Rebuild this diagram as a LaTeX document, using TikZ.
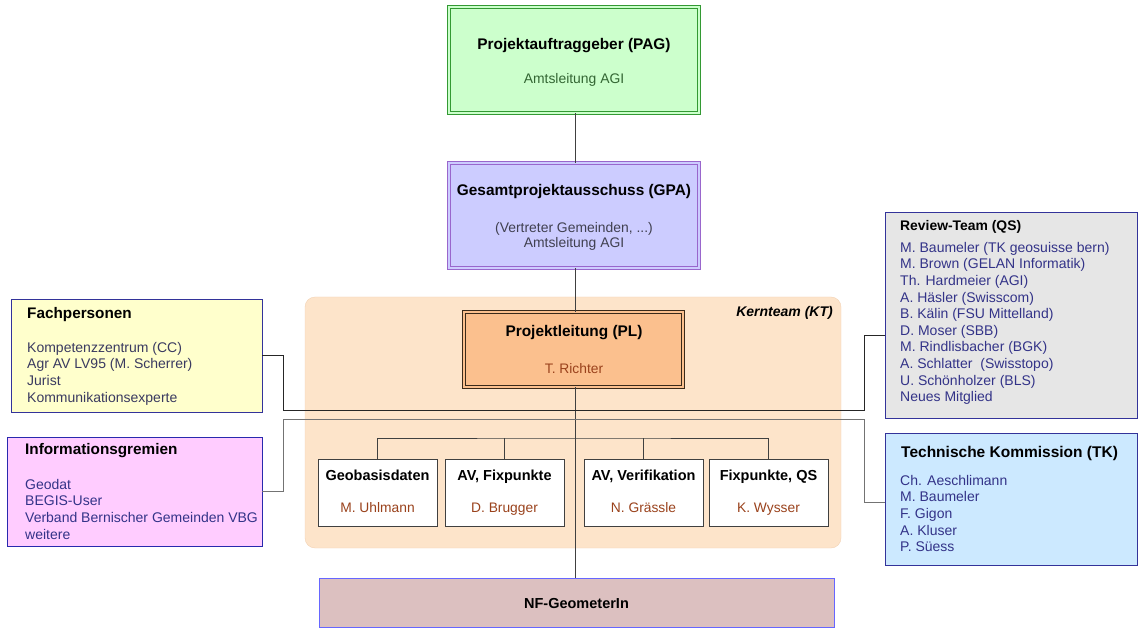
\documentclass[tikz,border=0pt]{standalone}
\usepackage{fontspec}
\setmainfont{Liberation Sans}

\definecolor{pagfill}{HTML}{CCFFCC}
\definecolor{pagline}{HTML}{339933}
\definecolor{pagtext}{HTML}{336633}
\definecolor{gpafill}{HTML}{CCCCFF}
\definecolor{gpaline}{HTML}{9966CC}
\definecolor{gpatext}{HTML}{404050}
\definecolor{ktfill}{HTML}{FDE4CA}
\definecolor{ktline}{HTML}{F2D2B4}
\definecolor{plfill}{HTML}{FBC08E}
\definecolor{plline}{HTML}{3A2A1A}
\definecolor{nametext}{HTML}{9A421C}
\definecolor{fachfill}{HTML}{FFFFCC}
\definecolor{fachtext}{HTML}{3A3A60}
\definecolor{infofill}{HTML}{FFCCFF}
\definecolor{revfill}{HTML}{E6E6E6}
\definecolor{tkfill}{HTML}{CCE9FF}
\definecolor{nffill}{HTML}{DCC0C0}
\definecolor{nfline}{HTML}{6666FF}
\definecolor{boxblue}{HTML}{33339A}
\definecolor{listtext}{HTML}{333388}
\definecolor{linegray}{HTML}{404040}

\tikzset{
  box/.style={draw, rectangle, inner sep=0pt, line width=0.8pt},
  dbox/.style={box, line width=0.7pt, double distance=2pt},
  title/.style={inner sep=0pt, font=\bfseries\fontsize{14.5}{17}\selectfont},
  bigtitle/.style={inner sep=0pt, font=\bfseries\fontsize{15.4}{18}\selectfont},
  body/.style={inner sep=0pt, font=\fontsize{14}{16.6}\selectfont, align=left, text=listtext},
  persname/.style={inner sep=0pt, font=\fontsize{13.8}{16}\selectfont, text=nametext},
  conn/.style={draw=linegray, line width=1pt},
}

\begin{document}
\begin{tikzpicture}[x=1pt,y=-1pt]
\useasboundingbox (0,0) rectangle (1138,628);
%
\node[rectangle, rounded corners=10pt, fill=ktfill, draw=ktline, minimum width=536pt, minimum height=251pt] (kt) at (573,422.5) {};
\node[anchor=base east, inner sep=0pt, font=\bfseries\itshape\fontsize{14}{16}\selectfont] (ktL) at (833,317) {Kernteam (KT)};
%
\node[dbox, draw=pagline, double=pagfill, fill=pagfill, minimum width=250pt, minimum height=106pt] (pag) at (574,60) {};
\node[bigtitle, anchor=base] (pagT) at (574,50) {Projektauftraggeber (PAG)};
\node[anchor=base, inner sep=0pt, font=\fontsize{13.9}{16}\selectfont, text=pagtext] (pagN) at (574,84) {Amtsleitung AGI};
%
\node[dbox, draw=gpaline, double=gpafill, fill=gpafill, minimum width=250pt, minimum height=105pt] (gpa) at (574,215.5) {};
\node[bigtitle, anchor=base] (gpaT) at (574,196) {Gesamtprojektausschuss (GPA)};
\node[anchor=north, inner sep=0pt, align=center, font=\fontsize{13.9}{15.5}\selectfont, text=gpatext] (gpaN) at (574,222) {(Vertreter Gemeinden, ...)\\Amtsleitung AGI};
%
\node[dbox, draw=plline, double=plfill, fill=plfill, minimum width=219pt, minimum height=75pt] (pl) at (573.5,349.5) {};
\node[bigtitle, anchor=base] (plT) at (574,337) {Projektleitung (PL)};
\node[persname, anchor=base] (plN) at (574,373) {T. Richter};
%
\node[box, draw=black!75, fill=white, minimum width=119pt, minimum height=67pt] (geo) at (377.5,492.5) {};
\node[box, draw=black!75, fill=white, minimum width=119pt, minimum height=67pt] (avfix) at (504.5,492.5) {};
\node[box, draw=black!75, fill=white, minimum width=119pt, minimum height=67pt] (avver) at (643.5,492.5) {};
\node[box, draw=black!75, fill=white, minimum width=119pt, minimum height=67pt] (fixqs) at (768.5,492.5) {};
\node[title, anchor=base] (geoT) at (377.5,480) {Geobasisdaten};
\node[title, anchor=base] (avfixT) at (504.5,480) {AV, Fixpunkte};
\node[title, anchor=base] (avverT) at (643.5,480) {AV, Verifikation};
\node[title, anchor=base] (fixqsT) at (768.5,480) {Fixpunkte, QS};
\node[persname, anchor=base] (geoN) at (377.5,512) {M. Uhlmann};
\node[persname, anchor=base] (avfixN) at (504.5,512) {D. Brugger};
\node[persname, anchor=base] (avverN) at (643.5,512) {N. Grässle};
\node[persname, anchor=base] (fixqsN) at (768.5,512) {K. Wysser};
%
\node[box, draw=nfline, fill=nffill, minimum width=515pt, minimum height=49pt] (nf) at (576.5,602.5) {};
\node[title, anchor=base] (nfT) at (576.5,608) {NF-GeometerIn};
%
\node[box, draw=boxblue, fill=fachfill, minimum width=251pt, minimum height=113pt] (fach) at (136.5,355.5) {};
\node[title, anchor=base west, font=\bfseries\fontsize{15.3}{18}\selectfont] (fachT) at (27,319) {Fachpersonen};
\node[body, anchor=north west, text=fachtext] (fachL) at (27,342) {Kompetenzzentrum (CC)\\Agr AV LV95 (M. Scherrer)\\Jurist\\Kommunikationsexperte};
%
\node[box, draw=boxblue!80!blue, fill=infofill, minimum width=255pt, minimum height=109pt] (info) at (134.5,491.5) {};
\node[title, anchor=base west, font=\bfseries\fontsize{15.3}{18}\selectfont] (infoT) at (25,454) {Informationsgremien};
\node[body, anchor=north west] (infoL) at (25,479) {Geodat\\BEGIS-User\\Verband Bernischer Gemeinden VBG\\weitere};
%
\node[box, draw=boxblue, fill=revfill, minimum width=252pt, minimum height=206pt] (review) at (1011,315) {};
\node[title, anchor=base west, font=\bfseries\fontsize{13.9}{17}\selectfont] (reviewT) at (900,231) {Review-Team (QS)};
\node[body, anchor=north west] (reviewL) at (900,242) {M. Baumeler (TK geosuisse bern)\\M. Brown (GELAN Informatik)\\Th. Hardmeier (AGI)\\A. Häsler (Swisscom)\\B. Kälin (FSU Mittelland)\\D. Moser (SBB)\\M. Rindlisbacher (BGK)\\A. Schlatter~ (Swisstopo)\\U. Schönholzer (BLS)\\Neues Mitglied};
%
\node[box, draw=boxblue, fill=tkfill, minimum width=252pt, minimum height=132pt] (tk) at (1011,499) {};
\node[title, anchor=base west, font=\bfseries\fontsize{15.5}{18}\selectfont] (tkT) at (901,457.5) {Technische Kommission (TK)};
\node[body, anchor=north west] (tkL) at (900,475) {Ch. Aeschlimann\\M. Baumeler\\F. Gigon\\A. Kluser\\P. Süess};
%
\coordinate (fl) at (283,410);
\coordinate (fr) at (864,410);
\coordinate (il) at (283,419);
\coordinate (ir) at (864,419);
\coordinate (bar) at (575,438);
%
\draw[conn] (pag.south -| 575,0) -- (gpa.north -| 575,0);
\draw[conn] (gpa.south -| 575,0) -- (pl.north -| 575,0);
\draw[conn] (pl.south -| 575,0) -- (nf.north -| 575,0);
\draw[conn] (geo.north) |- (bar) -| (fixqs.north);
\draw[conn] (avfix.north) -- (avfix.north |- bar);
\draw[conn] (avver.north) -- (avver.north |- bar);
\draw[conn, draw=black!85] (fach.east) -| (fl) -- (fr) |- ([yshift=-21pt]review.west);
\draw[conn, draw=black!55] (info.east) -| (il) -- (ir) |- ([yshift=-3pt]tk.west);
\end{tikzpicture}
\end{document}
